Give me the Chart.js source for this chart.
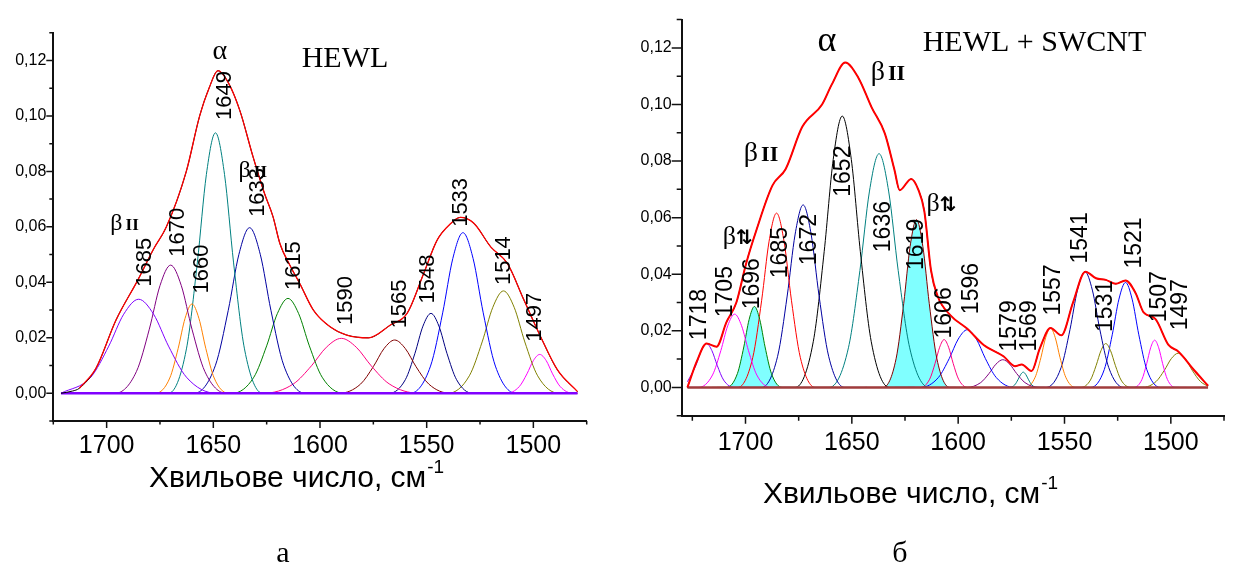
<!DOCTYPE html>
<html>
<head>
<meta charset="utf-8">
<script src="https://cdn.jsdelivr.net/npm/chart.js@4.4.0/dist/chart.umd.min.js"></script>
<style>
  body { margin: 0; background: #fff; width: 1236px; height: 569px; overflow: hidden; position: relative; }
  canvas { position: absolute; top: 0; }
  #ca { left: 0; }
  #cb { left: 600px; }
</style>
</head>
<body>
<canvas id="ca" width="600" height="569"></canvas>
<canvas id="cb" width="636" height="569"></canvas>
<script>
// axis ticks (cm-1 and absorbance)
const xTickVals = [1725, 1700, 1675, 1650, 1625, 1600, 1575, 1550, 1525, 1500, 1475];
const xMajor = [1700, 1650, 1600, 1550, 1500];
const yTickVals = [-0.01, 0, 0.01, 0.02, 0.03, 0.04, 0.05, 0.06, 0.07, 0.08, 0.09, 0.10, 0.11, 0.12, 0.13];
const yMajor = [0, 0.02, 0.04, 0.06, 0.08, 0.10, 0.12];

// ---- panel a: HEWL ----
const envA = [[1712.8,0.0018],[1705,0.009],[1695.6,0.0264],[1685.4,0.0408],[1678,0.052],[1672,0.060],[1662.7,0.0799],
  [1656.4,0.100],[1652,0.110],[1647.8,0.1163],[1643,0.112],[1637.6,0.102],[1631.4,0.0853],[1626,0.072],[1622,0.0636],
  [1618.8,0.054],[1614,0.046],[1609.5,0.0396],[1603.1,0.030],[1595.3,0.024],[1587.5,0.021],[1577.3,0.020],[1567,0.0246],
  [1559.2,0.0288],[1551.4,0.0432],[1545.1,0.0552],[1539,0.061],[1534.2,0.0634],[1527.9,0.0613],[1520,0.0528],
  [1512.2,0.0468],[1504.4,0.0336],[1496.6,0.0204],[1488.7,0.0084],[1479.3,0.0006]];
const expA = [[1721.4,0],[1716,0.0008],[1712.8,0.0018]].concat(envA.slice(1));
const baseA = [[1721.4,0],[1479.3,0]];

const a1685 = [[1721.4,0],[1707.4,0.0058],[1699,0.017],[1692,0.0285],[1685,0.0339],[1678,0.0285],[1671,0.017],[1662.6,0.0058],[1648.6,0],[1629,0]];
const a1670 = [[1710,0],[1696,0],[1686,0.0079],[1680,0.0231],[1675,0.0388],[1670,0.0462],[1665,0.0388],[1660,0.0231],[1654,0.0079],[1644,0],[1630,0]];
const a1660 = [[1686,0],[1677,0],[1670.4,0.0055],[1666.5,0.0161],[1663.25,0.027],[1660,0.0322],[1656.75,0.027],[1653.5,0.0161],[1649.6,0.0055],[1643,0],[1634,0]];
const a1649 = [[1683,0],[1671,0],[1662.6,0.016],[1657.5,0.047],[1653.25,0.0789],[1649,0.0939],[1644.75,0.0789],[1640.5,0.047],[1635.4,0.016],[1627,0],[1615,0]];
const a1633 = [[1673,0],[1659,0],[1649,0.0101],[1643,0.0299],[1638,0.0501],[1633,0.0597],[1628,0.0501],[1623,0.0299],[1617,0.0101],[1607,0],[1593,0]];
const a1615 = [[1655,0],[1641,0],[1631,0.0058],[1625,0.0171],[1620,0.0287],[1615,0.0342],[1610,0.0287],[1605,0.0171],[1599,0.0058],[1589,0],[1575,0]];
const a1590 = [[1646,0],[1626.4,0],[1612.4,0.0034],[1604,0.0099],[1597,0.0166],[1590,0.0198],[1583,0.0166],[1576,0.0099],[1567.6,0.0034],[1553.6,0],[1534,0]];
const a1565 = [[1605,0],[1591,0],[1581,0.0033],[1575,0.0096],[1570,0.0161],[1565,0.0192],[1560,0.0161],[1555,0.0096],[1549,0.0033],[1539,0],[1525,0]];
const a1548 = [[1578,0],[1567.5,0],[1560,0.0049],[1555.5,0.0144],[1551.75,0.0242],[1548,0.0288],[1544.25,0.0242],[1540.5,0.0144],[1536,0.0049],[1528.5,0],[1518,0]];
const a1533 = [[1571,0],[1557.7,0],[1548.2,0.0098],[1542.5,0.029],[1537.75,0.0486],[1533,0.0579],[1528.25,0.0486],[1523.5,0.029],[1517.8,0.0098],[1508.3,0],[1495,0]];
const a1514 = [[1554,0],[1540,0],[1530,0.0063],[1524,0.0185],[1519,0.031],[1514,0.0369],[1509,0.031],[1504,0.0185],[1498,0.0063],[1488,0],[1479.3,0]];
const a1497 = [[1521,0],[1512.6,0],[1506.6,0.0024],[1503,0.007],[1500,0.0118],[1497,0.014],[1494,0.0118],[1491,0.007],[1487.4,0.0024],[1481.4,0],[1479.3,0]];
const peaksA = [a1685, a1670, a1660, a1649, a1633, a1615, a1590, a1565, a1548, a1533, a1514, a1497];
const coloursA = ['#8000ff','#800080','#ff8000','#008080','#0000a0','#008000','#ff0080','#800000','#000080','#0000ff','#808000','#ff00ff'];
const labelsA = ['1685','1670','1660','1649','1633','1615','1590','1565','1548','1533','1514','1497'];
const labelXA = [1682.7, 1667, 1656, 1645.1, 1629.4, 1612.9, 1588.2, 1563.2, 1549.8, 1534.6, 1514.2, 1499.7];
const labelYA = [0.0384, 0.0492, 0.036, 0.0985, 0.0636, 0.0372, 0.0246, 0.0234, 0.0324, 0.060, 0.039, 0.0186];

// ---- panel b: HEWL + SWCNT ----
const envB = [[1727.3,0],[1722.9,0.0092],[1718.3,0.0155],[1713.6,0.0144],[1709,0.023],[1704.3,0.030],[1699.7,0.0438],
  [1695,0.0553],[1687.3,0.0714],[1681.1,0.0772],[1673.3,0.0921],[1664,0.100],[1659.4,0.1071],[1653.1,0.1148],
  [1646.9,0.1094],[1640.7,0.099],[1634.5,0.0898],[1630,0.077],[1627.5,0.0697],[1622.1,0.0737],[1618.8,0.070],
  [1615.9,0.0622],[1612.8,0.0415],[1609.7,0.0323],[1603.5,0.0254],[1595.7,0.0207],[1588,0.015],[1578.7,0.011],
  [1573.3,0.0075],[1570.1,0.0081],[1565.5,0.0058],[1561.6,0.0138],[1556.6,0.021],[1551.5,0.0184],[1546,0.030],
  [1540.2,0.0409],[1535.2,0.0386],[1530.6,0.038],[1525.9,0.0366],[1521.3,0.0378],[1516.6,0.0334],[1512.8,0.0265],
  [1507.3,0.0242],[1501.1,0.015],[1496.5,0.0127],[1488.7,0.0058],[1482.5,0.0006]];
const baseB = [[1727.3,0],[1482.5,0]];

const b1718 = [[1727.3,0.002],[1723.3,0.0078],[1720.8,0.013],[1718.3,0.0155],[1715.8,0.013],[1713.3,0.0078],[1710.3,0.0026],[1705.3,0],[1698.3,0]];
const b1705 = [[1727.3,0],[1722.1,0],[1715.5,0.0044],[1711.6,0.013],[1708.35,0.0218],[1705.1,0.0259],[1701.85,0.0218],[1698.6,0.013],[1694.7,0.0044],[1688.1,0],[1679,0]];
const b1696 = [[1715.8,0],[1708.8,0],[1703.8,0.0049],[1700.8,0.0143],[1698.3,0.024],[1695.8,0.0286],[1693.3,0.024],[1690.8,0.0143],[1687.8,0.0049],[1682.8,0],[1675.8,0]];
const b1685 = [[1713.4,0],[1703.6,0],[1696.6,0.0105],[1692.4,0.0308],[1688.9,0.0517],[1685.4,0.0616],[1681.9,0.0517],[1678.4,0.0308],[1674.2,0.0105],[1667.2,0],[1657.4,0]];
const b1672 = [[1702.9,0],[1692.4,0],[1684.9,0.011],[1680.4,0.0323],[1676.65,0.0542],[1672.9,0.0645],[1669.15,0.0542],[1665.4,0.0323],[1660.9,0.011],[1653.4,0],[1642.9,0]];
const b1652 = [[1688.5,0],[1676.6,0],[1668.1,0.0163],[1663,0.048],[1658.75,0.0806],[1654.5,0.0959],[1650.25,0.0806],[1646,0.048],[1640.9,0.0163],[1632.4,0],[1620.5,0]];
const b1636 = [[1673.2,0],[1660.6,0],[1651.6,0.014],[1646.2,0.0413],[1641.7,0.0694],[1637.2,0.0826],[1632.7,0.0694],[1628.2,0.0413],[1622.8,0.014],[1613.8,0],[1601.2,0]];
const b1619 = [[1643.6,0],[1635.2,0],[1629.2,0.0101],[1625.6,0.0297],[1622.6,0.0498],[1619.6,0.0593],[1616.6,0.0498],[1613.6,0.0297],[1610,0.0101],[1604,0],[1595.6,0]];
const b1606 = [[1623.6,0],[1617.6,0],[1613.4,0.0029],[1610.85,0.0085],[1608.7,0.0142],[1606.6,0.0169],[1604.5,0.0142],[1602.35,0.0085],[1599.8,0.0029],[1595.6,0],[1589.6,0]];
const b1596 = [[1629.7,0],[1617.7,0],[1609.3,0.0035],[1604.2,0.0102],[1599.95,0.0171],[1595.7,0.0204],[1591.45,0.0171],[1587.2,0.0102],[1582.1,0.0035],[1573.7,0],[1561.7,0]];
const b1579 = [[1605,0],[1596,0],[1589.4,0.0017],[1585.5,0.0049],[1582.25,0.0082],[1579,0.0098],[1575.75,0.0082],[1572.5,0.0049],[1568.6,0.0017],[1562,0],[1553,0]];
const b1569 = [[1579.4,0],[1575.9,0],[1573.4,0.0009],[1571.9,0.0027],[1570.65,0.0045],[1569.4,0.0054],[1568.15,0.0045],[1566.9,0.0027],[1565.4,0.0009],[1562.9,0],[1559.4,0]];
const b1557 = [[1574.6,0],[1568.3,0],[1563.8,0.0036],[1561.1,0.0105],[1558.85,0.0176],[1556.6,0.021],[1554.35,0.0176],[1552.1,0.0105],[1549.4,0.0036],[1544.9,0],[1538.6,0]];
const b1541 = [[1568.4,0],[1558.6,0],[1551.6,0.007],[1547.4,0.0205],[1543.9,0.0344],[1540.4,0.0409],[1536.9,0.0344],[1533.4,0.0205],[1529.2,0.007],[1522.2,0],[1512.4,0]];
const b1531 = [[1548.6,0],[1542.3,0],[1537.8,0.0026],[1535.1,0.0078],[1532.85,0.013],[1530.6,0.0155],[1528.35,0.013],[1526.1,0.0078],[1523.4,0.0026],[1518.9,0],[1512.6,0]];
const b1521 = [[1546.3,0],[1537.6,0],[1531.3,0.0063],[1527.55,0.0186],[1524.4,0.0312],[1521.3,0.0371],[1518.2,0.0312],[1515.05,0.0186],[1511.3,0.0063],[1505,0],[1496.3,0]];
const b1507 = [[1522.6,0],[1517.35,0],[1513.6,0.0028],[1511.35,0.0084],[1509.5,0.014],[1507.6,0.0167],[1505.7,0.014],[1503.85,0.0084],[1501.6,0.0028],[1497.85,0],[1492.6,0]];
const b1497 = [[1522.5,0],[1513.4,0],[1506.9,0.0021],[1503,0.0061],[1499.75,0.0102],[1496.5,0.0121],[1493.25,0.0102],[1490,0.0061],[1486.1,0.0021],[1482.5,0.0004]];
const peaksB = [b1718, b1705, b1696, b1685, b1672, b1652, b1636, b1619, b1606, b1596, b1579, b1569, b1557, b1541, b1531, b1521, b1507, b1497];
const coloursB = ['#8000ff','#ff00ff','#008000','#ff0000','#0000a0','#000000','#008080','#800000','#ff0080','#0000ff','#800080','#008080','#ff8000','#0000a0','#808000','#0000ff','#ff00ff','#808000'];
const filledB = ['1696', '1619'];
const labelsB = ['1718','1705','1696','1685','1672','1652','1636','1619','1606','1596','1579','1569','1557','1541','1531','1521','1507','1497'];
const labelXB = [1721.8, 1709.8, 1697.3, 1683.8, 1670.2, 1654.3, 1635.3, 1619.8, 1607, 1594.2, 1576.3, 1567, 1555.4, 1543, 1531, 1517.4, 1505.8, 1495.7];
const labelYB = [0.0167, 0.0248, 0.0276, 0.0386, 0.0432, 0.0674, 0.0478, 0.0415, 0.0173, 0.0259, 0.0127, 0.0127, 0.0254, 0.0438, 0.0196, 0.042, 0.023, 0.0202];

const SANS = 'Liberation Sans, Arial, sans-serif';
const SERIF = 'Liberation Serif, Times New Roman, serif';

function isIn(list, v) { return list.some(m => Math.abs(m - v) < 1e-9); }

function peakSets(peaks, colours, labels, filled) {
  return peaks.map((p, i) => {
    const fill = filled && filled.includes(labels[i]);
    return { data: p, borderColor: colours[i], borderWidth: 1,
      fill: fill ? 'origin' : false, backgroundColor: fill ? '#80ffff' : 'transparent' };
  });
}

// text, ticks and titles on top of the plot
function decor(o) {
  return {
    id: 'decor' + o.key,
    afterDraw(chart) {
      const { ctx, chartArea: a, scales: { x, y } } = chart;
      ctx.save();
      ctx.strokeStyle = '#111';
      ctx.lineWidth = 1.5;
      ctx.beginPath();
      xTickVals.forEach(v => {
        const px = x.getPixelForValue(v);
        const len = isIn(xMajor, v) ? o.xtl[0] : o.xtl[1];
        ctx.moveTo(px, a.bottom); ctx.lineTo(px, a.bottom + len);
      });
      yTickVals.forEach(v => {
        const py = y.getPixelForValue(v);
        const len = isIn(yMajor, v) ? o.ytl[0] : o.ytl[1];
        ctx.moveTo(a.left, py); ctx.lineTo(a.left - len, py);
      });
      ctx.stroke();

      ctx.fillStyle = '#000';
      // rotated band positions
      ctx.font = o.labelSize + 'px ' + SANS;
      ctx.textAlign = 'left';
      ctx.textBaseline = 'middle';
      o.labels.forEach((t, i) => {
        ctx.save();
        ctx.translate(x.getPixelForValue(o.lx[i]), y.getPixelForValue(o.ly[i]));
        ctx.rotate(-Math.PI / 2);
        ctx.fillText(t, 0, 1);
        ctx.restore();
      });

      ctx.textBaseline = 'alphabetic';
      // alpha
      ctx.font = o.alpha[2] + 'px ' + SERIF;
      ctx.textAlign = 'center';
      ctx.fillText('α', x.getPixelForValue(o.alpha[0]), y.getPixelForValue(o.alpha[1]) + o.alpha[2] * 0.22);
      // sample name
      ctx.font = '30px ' + SERIF;
      ctx.textAlign = 'left';
      ctx.fillText(o.name[2], x.getPixelForValue(o.name[0]), y.getPixelForValue(o.name[1]) + 10);
      // beta marks
      o.betas.forEach(b => {
        const [v, val, bs, ss, kind] = b;
        const cx = x.getPixelForValue(v), cy = y.getPixelForValue(val);
        const f1 = bs + 'px ' + SERIF;
        const f2 = kind === 'II' ? 'bold ' + ss + 'px ' + SERIF : 'bold ' + ss + 'px DejaVu Sans';
        const s2 = kind === 'II' ? 'II' : '⇅';
        ctx.font = f1; const w1 = ctx.measureText('β').width;
        ctx.font = f2; const w2 = ctx.measureText(s2).width;
        const gap = kind === 'II' ? 3 : 0;
        const x0 = cx - (w1 + gap + w2) / 2, base = cy + bs * 0.3;
        ctx.font = f1; ctx.fillText('β', x0, base);
        ctx.font = f2; ctx.fillText(s2, x0 + w1 + gap, base);
      });

      // axis title with superscript
      ctx.font = '30px ' + SANS;
      const main = 'Хвильове число, см';
      const wm = ctx.measureText(main).width;
      ctx.font = '19px ' + SANS;
      const ws = ctx.measureText('-1').width;
      const tx = o.title[0] - (wm + ws) / 2, ty = o.title[1] + 11;
      ctx.font = '30px ' + SANS;
      ctx.fillText(main, tx, ty);
      ctx.font = '19px ' + SANS;
      ctx.fillText('-1', tx + wm + 1, ty - 14);
      // panel letter
      ctx.font = '30px ' + SERIF;
      ctx.textAlign = 'center';
      ctx.fillText(o.letter[2], o.letter[0], o.letter[1]);
      ctx.restore();
    }
  };
}

function makeChart(id, o) {
  return new Chart(document.getElementById(id), {
    type: 'line',
    data: {
      datasets: [
        { data: o.env, borderColor: '#ff0000', borderWidth: o.envWidth },
        { data: o.exp, borderColor: '#000000', borderWidth: 1 },
        { data: o.base, borderColor: o.baseColour, borderWidth: 2.5 },
        ...peakSets(o.peaks, o.colours, o.labels, o.filled)
      ]
    },
    options: {
      responsive: false,
      animation: false,
      layout: { padding: o.padding },
      elements: { point: { radius: 0 }, line: { cubicInterpolationMode: 'monotone', borderJoinStyle: 'round' } },
      plugins: { legend: { display: false }, tooltip: { enabled: false }, filler: { drawTime: 'beforeDatasetsDraw' } },
      scales: {
        x: {
          type: 'linear', reverse: true, min: 1475, max: o.xmax,
          afterBuildTicks: s => { s.ticks = xTickVals.map(v => ({ value: v })); },
          afterFit: s => { s.height = 60; },
          grid: { display: false, drawTicks: false },
          border: { display: true, color: '#111', width: 2 },
          ticks: { autoSkip: false, maxRotation: 0, padding: o.xpad, color: '#000',
            font: { family: SANS, size: 25 },
            callback: v => isIn(xMajor, v) ? String(v) : '' }
        },
        y: {
          type: 'linear', min: -0.01, max: 0.13,
          afterBuildTicks: s => { s.ticks = yTickVals.map(v => ({ value: v })); },
          afterFit: s => { s.width = o.yw; },
          grid: { display: false, drawTicks: false },
          border: { display: true, color: '#111', width: 2 },
          ticks: { autoSkip: false, padding: o.ypad, color: '#000',
            font: { family: SANS, size: 16 },
            callback: v => isIn(yMajor, v) ? v.toFixed(2).replace('.', ',') : '' }
        }
      }
    },
    plugins: [decor(o)]
  });
}

makeChart('ca', {
  key: 'a', env: envA, exp: expA, base: baseA, baseColour: '#8000ff', envWidth: 1.3,
  peaks: peaksA, colours: coloursA, labels: labelsA, lx: labelXA, ly: labelYA, labelSize: 22,
  xmax: 1725, yw: 53.3, xpad: 10, ypad: 7, xtl: [7, 3.5], ytl: [7, 4],
  padding: { left: 0, top: 32.7, right: 13.3, bottom: 88 },
  alpha: [1647, 0.1226, 28], name: [1608.6, 0.1213, 'HEWL'],
  betas: [[1691.6, 0.0613, 24, 17, 'II'], [1631.5, 0.0804, 24, 17, 'II']],
  title: [296, 476], letter: [283, 562, 'а']
});

makeChart('cb', {
  key: 'b', env: envB, exp: envB, base: baseB, baseColour: '#a03c3c', envWidth: 2,
  peaks: peaksB, colours: coloursB, labels: labelsB, filled: filledB, lx: labelXB, ly: labelYB, labelSize: 23,
  xmax: 1730, yw: 81.7, xpad: 12, ypad: 10, xtl: [8, 5], ytl: [10, 5],
  padding: { left: 0, top: 10.7, right: 6, bottom: 93.3 },
  alpha: [1661.7, 0.1218, 36], name: [1616.7, 0.1223, 'HEWL + SWCNT'],
  betas: [[1633, 0.1115, 28, 22, 'II'], [1692.7, 0.0831, 28, 22, 'II'], [1703.6, 0.0534, 26, 20, 'ud'], [1607.8, 0.0652, 26, 20, 'ud']],
  title: [310, 492], letter: [300, 562, 'б']
});
</script>
</body>
</html>
